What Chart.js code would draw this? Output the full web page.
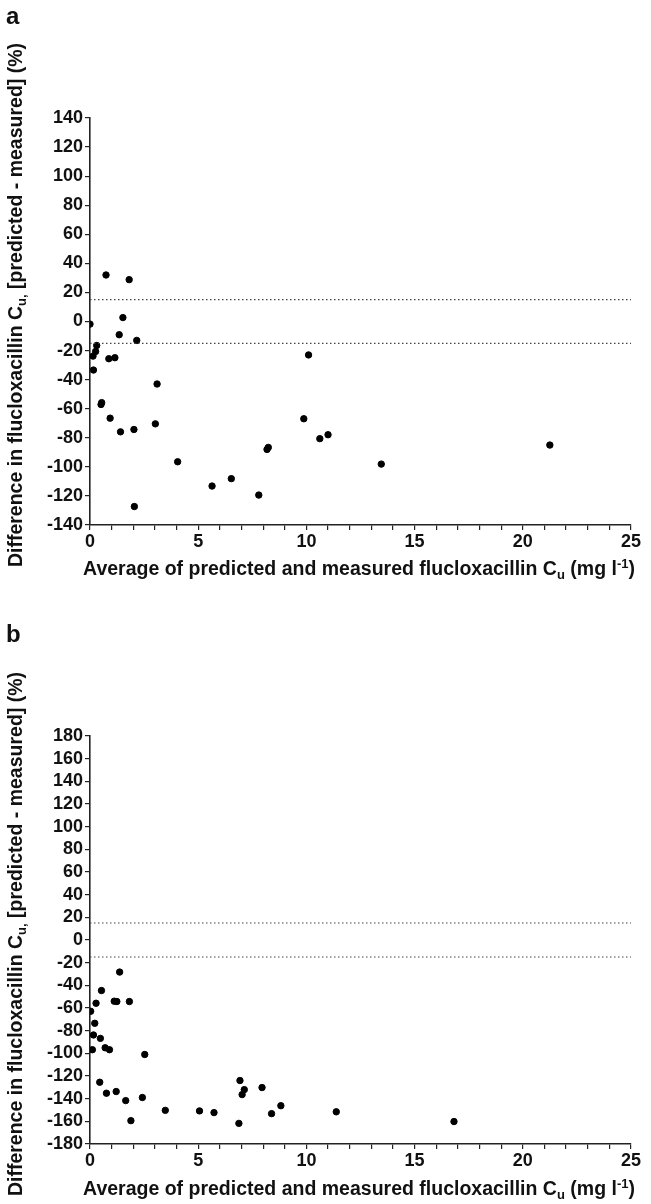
<!DOCTYPE html>
<html>
<head>
<meta charset="utf-8">
<script src="https://cdn.jsdelivr.net/npm/chart.js@4/dist/chart.umd.min.js"></script>
<style>
  body { margin: 0; background: #fff; }
  #page { position: relative; width: 651px; height: 1204px; overflow: hidden; background: #fff;
          font-family: "Liberation Sans", Arial, sans-serif; font-weight: bold; color: #111; }
  canvas { position: absolute; left: 0; }
  .lbl { position: absolute; white-space: nowrap; }
  .panel { font-size: 24px; left: 6px; }
  .xt { font-size: 19.5px; transform: translateX(-50%); }
  .yt { font-size: 19.5px; transform: translate(-50%, -50%) rotate(-90deg); }
  sub { font-size: 13px; vertical-align: -4px; line-height: 0; }
  sup { font-size: 13px; vertical-align: 7px; line-height: 0; }
</style>
</head>
<body>
<div id="page">
  <canvas id="chartA" width="651" height="600" style="top:0"></canvas>
  <canvas id="chartB" width="651" height="604" style="top:600px"></canvas>

  <div class="lbl panel" style="top:2px">a</div>
  <div class="lbl yt" style="left:15px; top:305px">Difference in flucloxacillin C<sub>u,</sub> [predicted - measured] (%)</div>
  <div class="lbl xt" style="left:359px; top:557px">Average of predicted and measured flucloxacillin C<sub>u</sub> (mg l<sup>-1</sup>)</div>

  <div class="lbl panel" style="top:620px">b</div>
  <div class="lbl yt" style="left:15px; top:934px">Difference in flucloxacillin C<sub>u,</sub> [predicted - measured] (%)</div>
  <div class="lbl xt" style="left:359px; top:1177px">Average of predicted and measured flucloxacillin C<sub>u</sub> (mg l<sup>-1</sup>)</div>
</div>
<script>
// panel a - average concentration (x) vs % difference (y)
const aX = [0.74, 1.81, 0.00, 1.52, 1.35, 2.16, 0.31, 0.26, 0.14, 0.87, 1.15, 0.16, 3.10, 0.54, 0.51, 0.93,
            3.02, 1.41, 2.03, 4.05, 5.64, 6.53, 7.80, 2.05, 8.18, 8.24, 9.88, 10.62, 11.00, 13.46, 21.25, 10.10];
const aY = [32.0, 28.8, -1.8, 2.7, -9.1, -13.0, -16.5, -20.6, -23.8, -25.6, -24.9, -33.4, -43.0, -55.8, -57.1, -66.5,
            -70.4, -75.9, -74.3, -96.5, -113.2, -108.1, -119.4, -127.3, -88.0, -86.6, -66.9, -80.6, -77.9, -98.1, -85.0, -23.0];

// panel b
const bX = [0.03, 1.37, 0.53, 0.28, 1.12, 1.24, 1.82, 0.22, 0.16, 0.48, 0.11, 0.70, 0.90, 2.53, 0.45, 0.76,
            1.21, 1.65, 2.42, 1.89, 3.48, 5.06, 5.73, 6.88, 6.93, 7.03, 7.13, 7.95, 8.39, 8.82, 11.38, 16.82];
const bY = [-62.9, -28.3, -44.6, -55.8, -54.0, -54.3, -54.3, -73.5, -83.8, -86.8, -96.8, -95.1, -96.8, -101.0, -125.5, -135.2,
            -133.7, -141.7, -139.0, -159.4, -150.3, -150.8, -152.3, -161.8, -124.0, -136.4, -132.0, -130.2, -153.2, -146.2, -151.6, -160.2];

// +/- 15% limits (dotted lines)
const limits = [15, -15];
const xRange = [0, 25];
const xLabels = [0, 5, 10, 15, 20, 25];
const yRangeA = [-140, 140];
const yRangeB = [-180, 180];

function makeChart(id, xs, ys, yRange, padTop, xAxisH) {
  const pts = xs.map((x, i) => ({ x: x, y: ys[i] }));
  const limitSets = limits.map(v => ({
    type: 'line',
    data: xRange.map(x => ({ x: x, y: v })),
    borderColor: '#444',
    borderWidth: 1.2,
    borderDash: [1.5, 2.5],
    pointRadius: 0,
    fill: false
  }));
  const tickFont = { family: '"Liberation Sans", Arial, sans-serif', size: 18, weight: 'bold' };

  return new Chart(document.getElementById(id), {
    type: 'scatter',
    data: {
      datasets: [
        ...limitSets,
        {
          data: pts,
          backgroundColor: '#000',
          borderColor: '#000',
          pointRadius: 3.2,
          pointHoverRadius: 3.2
        }
      ]
    },
    options: {
      responsive: false,
      animation: false,
      devicePixelRatio: 1,
      layout: { padding: { top: padTop, right: 20, left: 0, bottom: 0 } },
      plugins: { legend: { display: false }, tooltip: { enabled: false } },
      scales: {
        x: {
          type: 'linear',
          min: xRange[0], max: xRange[1],
          ticks: {
            stepSize: 1,
            autoSkip: false,
            maxRotation: 0,
            color: '#111',
            font: tickFont,
            padding: 1,
            callback: v => xLabels.includes(v) ? String(v) : ''
          },
          grid: { drawOnChartArea: false, color: '#222', tickLength: 5, lineWidth: 1.2 },
          border: { color: '#222', width: 1.6 },
          afterFit: s => { s.height = xAxisH; }
        },
        y: {
          min: yRange[0], max: yRange[1],
          ticks: { stepSize: 20, autoSkip: false, color: '#111', font: tickFont, padding: 2 },
          grid: { drawOnChartArea: false, color: '#222', tickLength: 5, lineWidth: 1.2 },
          border: { color: '#222', width: 1.6 },
          afterFit: s => { s.width = 90; }
        }
      }
    }
  });
}

makeChart('chartA', aX, aY, yRangeA, 118, 75);
makeChart('chartB', bX, bY, yRangeB, 136, 60);
</script>
</body>
</html>
